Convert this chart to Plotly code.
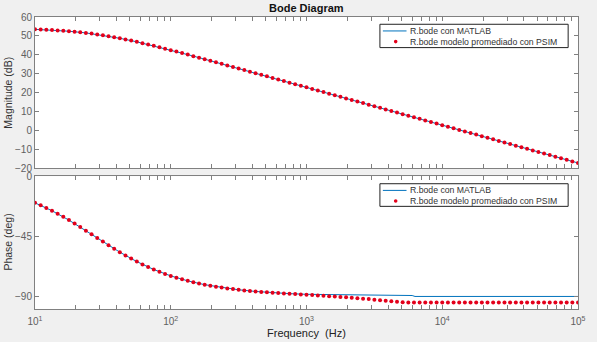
import plotly.graph_objects as go

# ---- data ----
FREQ_PSIM = [
    10.0, 11.01, 12.12, 13.34, 14.68, 16.16, 17.78, 19.57, 21.54, 23.71, 26.10, 28.73,
    31.62, 34.81, 38.31, 42.17, 46.42, 51.09, 56.23, 61.90, 68.13, 74.99, 82.54, 90.85,
    100.0, 110.1, 121.2, 133.4, 146.8, 161.6, 177.8, 195.7, 215.4, 237.1, 261.0, 287.3,
    316.2, 348.1, 383.1, 421.7, 464.2, 510.9, 562.3, 619.0, 681.3, 749.9, 825.4, 908.5,
    1000, 1101, 1212, 1334, 1468, 1616, 1778, 1957, 2154, 2371, 2610, 2873,
    3162, 3481, 3831, 4217, 4642, 5109, 5623, 6190, 6813, 7499, 8254, 9085,
    10000, 11010, 12120, 13340, 14680, 16160, 17780, 19570, 21540, 23710, 26100, 28730,
    31620, 34810, 38310, 42170, 46420, 51090, 56230, 61900, 68130, 74990, 82540, 90850,
    100000,
]
MAG_PSIM = [
    53.46, 53.35, 53.23, 53.08, 52.91, 52.71, 52.48, 52.22, 51.92, 51.59, 51.21, 50.80,
    50.34, 49.85, 49.32, 48.75, 48.15, 47.52, 46.86, 46.17, 45.46, 44.74, 44.00, 43.24,
    42.47, 41.69, 40.90, 40.11, 39.30, 38.50, 37.68, 36.87, 36.05, 35.23, 34.40, 33.58,
    32.75, 31.93, 31.10, 30.27, 29.44, 28.61, 27.78, 26.94, 26.11, 25.28, 24.45, 23.62,
    22.78, 21.95, 21.12, 20.29, 19.45, 18.62, 17.79, 16.95, 16.12, 15.29, 14.45, 13.62,
    12.79, 11.95, 11.12, 10.29, 9.45, 8.62, 7.79, 6.95, 6.12, 5.29, 4.45, 3.62,
    2.79, 1.95, 1.12, 0.29, -0.55, -1.38, -2.21, -3.05, -3.88, -4.71, -5.55, -6.38,
    -7.21, -8.05, -8.88, -9.71, -10.55, -11.38, -12.21, -13.05, -13.88, -14.71, -15.55, -16.38,
    -17.21,
]
PHASE_PSIM = [
    -19.99, -21.82, -23.78, -25.88, -28.09, -30.43, -32.89, -35.44, -38.08, -40.77, -43.51, -46.25,
    -48.99, -51.69, -54.33, -56.89, -59.36, -61.71, -63.94, -66.05, -68.02, -69.86, -71.58, -73.16,
    -74.63, -75.97, -77.21, -78.35, -79.39, -80.34, -81.21, -82.00, -82.73, -83.38, -83.99, -84.53,
    -85.03, -85.48, -85.89, -86.27, -86.61, -86.92, -87.20, -87.46, -87.80, -88.00, -88.25, -88.50,
    -88.75, -89.00, -89.25, -89.50, -89.80, -90.10, -90.40, -90.70, -91.00, -91.30, -91.70, -92.00,
    -92.40, -92.80, -93.20, -93.60, -94.00, -94.30, -94.50, -94.50, -94.50, -94.50, -94.50, -94.50,
    -94.50, -94.50, -94.50, -94.50, -94.50, -94.50, -94.50, -94.50, -94.50, -94.50, -94.50, -94.50,
    -94.50, -94.50, -94.50, -94.50, -94.50, -94.50, -94.50, -94.50, -94.50, -94.50, -94.50, -94.50,
    -94.50,
]
FREQ_MATLAB = [10.0, 13.34, 17.78, 23.71, 31.62, 42.17, 56.23, 74.99, 100.0, 133.4, 177.8, 237.1,
               316.2, 421.7, 562.3, 749.9, 1000, 2154, 6000, 6300, 100000]
MAG_MATLAB = [53.46, 53.08, 52.48, 51.59, 50.34, 48.75, 46.86, 44.74, 42.47, 40.11, 37.68, 35.23,
              32.75, 30.27, 27.78, 25.28, 22.78, 16.12, 7.22, 6.80, -17.21]
PHASE_MATLAB = [-19.99, -25.88, -32.89, -40.77, -48.99, -56.89, -63.94, -69.86, -74.63, -78.35,
                -81.21, -83.38, -85.03, -86.27, -87.20, -87.90, -88.42, -88.90, -89.30, -90.0, -90.0]

NAME_MATLAB = "R.bode con MATLAB"
NAME_PSIM = "R.bode modelo promediado con PSIM"

X_TICKS = [10, 20, 30, 40, 50, 60, 70, 80, 90,
           100, 200, 300, 400, 500, 600, 700, 800, 900,
           1000, 2000, 3000, 4000, 5000, 6000, 7000, 8000, 9000,
           10000, 20000, 30000, 40000, 50000, 60000, 70000, 80000, 90000, 100000]
X_TICKTEXT = ["10<sup>1</sup>"] + [""] * 8 + ["10<sup>2</sup>"] + [""] * 8 + \
             ["10<sup>3</sup>"] + [""] * 8 + ["10<sup>4</sup>"] + [""] * 8 + ["10<sup>5</sup>"]
MAG_TICKS = [-20, -10, 0, 10, 20, 30, 40, 50, 60]
PHASE_TICKS = [-90, -45, 0]

FONT = "Liberation Sans, Arial, Helvetica, sans-serif"
AXC = "#808080"
TXT = "#606060"
BLUE = "#0072BD"
RED = "#E3001B"

W, H = 597, 342
ML, MR, MT, MB = 35, 11, 16, 33
PW, PH = W - ML - MR, H - MT - MB


def px_x(px):
    return (px - ML) / PW


def px_y(py):
    return (H - MB - py) / PH


fig = go.Figure()
fig.add_trace(go.Scatter(x=FREQ_MATLAB, y=MAG_MATLAB, mode="lines", name=NAME_MATLAB,
                         line=dict(color=BLUE, width=1), xaxis="x", yaxis="y"))
fig.add_trace(go.Scatter(x=FREQ_PSIM, y=MAG_PSIM, mode="markers", name=NAME_PSIM,
                         marker=dict(color=RED, size=4), xaxis="x", yaxis="y"))
fig.add_trace(go.Scatter(x=FREQ_MATLAB, y=PHASE_MATLAB, mode="lines", name=NAME_MATLAB,
                         line=dict(color=BLUE, width=1), xaxis="x2", yaxis="y2"))
fig.add_trace(go.Scatter(x=FREQ_PSIM, y=PHASE_PSIM, mode="markers", name=NAME_PSIM,
                         marker=dict(color=RED, size=4), xaxis="x2", yaxis="y2"))

xcommon = dict(type="log", range=[1, 5], tickvals=X_TICKS, ticktext=X_TICKTEXT,
               ticks="inside", ticklen=4, tickcolor=AXC, showline=True, linecolor=AXC,
               linewidth=1, mirror="ticks", showgrid=False, zeroline=False,
               tickfont=dict(family=FONT, size=10, color=TXT))
ycommon = dict(ticks="inside", ticklen=4, tickcolor=AXC, showline=True, linecolor=AXC,
               linewidth=1, mirror="ticks", showgrid=False, zeroline=False,
               tickfont=dict(family=FONT, size=10, color=TXT))

# ---- hand-drawn compact legends (MATLAB style) ----
shapes = []
annotations = []
for top, bottom, row1, row2 in [(23.3, 46.7, 30.0, 40.7), (183.3, 206.0, 190.0, 200.7)]:
    shapes.append(dict(type="rect", xref="paper", yref="paper",
                       x0=px_x(385), x1=px_x(576), y0=px_y(bottom), y1=px_y(top),
                       line=dict(color="#222222", width=1), fillcolor="white", layer="above"))
    shapes.append(dict(type="line", xref="paper", yref="paper",
                       x0=px_x(388), x1=px_x(412), y0=px_y(row1), y1=px_y(row1),
                       line=dict(color=BLUE, width=1), layer="above"))
    shapes.append(dict(type="circle", xref="paper", yref="paper",
                       xsizemode="pixel", ysizemode="pixel",
                       xanchor=px_x(401), yanchor=px_y(row2),
                       x0=-1.8, x1=1.8, y0=-1.8, y1=1.8,
                       line=dict(width=0), fillcolor=RED, layer="above"))
    for row, txt in [(row1, NAME_MATLAB), (row2, NAME_PSIM)]:
        annotations.append(dict(text=txt, xref="paper", yref="paper",
                                x=px_x(413), y=px_y(row), xanchor="left", yanchor="middle",
                                showarrow=False,
                                font=dict(family=FONT, size=8.7, color="#333333")))

annotations += [
    dict(text="<b>Bode Diagram</b>", xref="paper", yref="paper", x=0.5, y=1,
         yshift=9, showarrow=False, yanchor="middle",
         font=dict(family=FONT, size=11, color="#111111")),
    dict(text="Magnitude (dB)", xref="paper", yref="paper", x=0, xshift=-27, y=0.741,
         textangle=-90, showarrow=False, xanchor="center", yanchor="middle",
         font=dict(family=FONT, size=10.5, color="#333333")),
    dict(text="Phase (deg)", xref="paper", yref="paper", x=0, xshift=-27, y=0.2275,
         textangle=-90, showarrow=False, xanchor="center", yanchor="middle",
         font=dict(family=FONT, size=10.5, color="#333333")),
    dict(text="Frequency  (Hz)", xref="paper", yref="paper", x=0.5, y=0, yshift=-24,
         showarrow=False, xanchor="center", yanchor="middle",
         font=dict(family=FONT, size=11, color="#222222")),
]

fig.update_layout(
    width=W, height=H,
    margin=dict(l=ML, r=MR, t=MT, b=MB),
    paper_bgcolor="#F0F0F0", plot_bgcolor="white",
    xaxis=dict(domain=[0, 1], anchor="y", showticklabels=False, **xcommon),
    yaxis=dict(domain=[0.482, 1], anchor="x", range=[-20, 60], tickvals=MAG_TICKS, **ycommon),
    xaxis2=dict(domain=[0, 1], anchor="y2", showticklabels=True, ticklabelstandoff=3, **xcommon),
    yaxis2=dict(domain=[0, 0.455], anchor="x2", range=[-99.4, 0], tickvals=PHASE_TICKS, **ycommon),
    showlegend=False,
    shapes=shapes,
    annotations=annotations,
)

fig.write_html("out.html")
